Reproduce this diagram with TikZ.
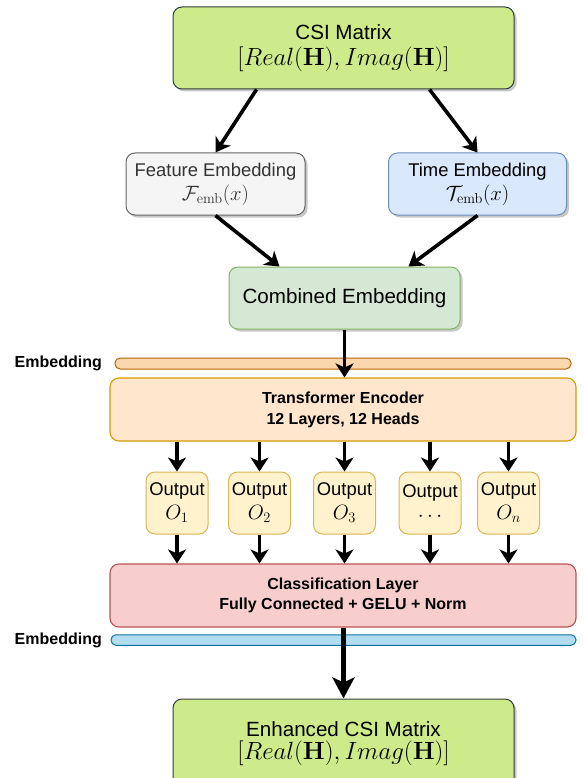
\documentclass[tikz,border=0pt]{standalone}
\usepackage[no-math]{fontspec}
\setmainfont{Liberation Sans}
\usetikzlibrary{arrows.meta,shadows}

\definecolor{csifill}{HTML}{CDEB8B}
\definecolor{csiedge}{HTML}{36393D}
\definecolor{featfill}{HTML}{F5F5F5}
\definecolor{featedge}{HTML}{666666}
\definecolor{feattext}{HTML}{333333}
\definecolor{timefill}{HTML}{DAE8FC}
\definecolor{timeedge}{HTML}{6C8EBF}
\definecolor{combfill}{HTML}{D5E8D4}
\definecolor{combedge}{HTML}{82B366}
\definecolor{embfill}{HTML}{FAD7AC}
\definecolor{embedge}{HTML}{B46504}
\definecolor{encfill}{HTML}{FFE6CC}
\definecolor{encedge}{HTML}{D79B00}
\definecolor{outfill}{HTML}{FFF2CC}
\definecolor{outedge}{HTML}{D6B656}
\definecolor{clsfill}{HTML}{F8CECC}
\definecolor{clsedge}{HTML}{B85450}
\definecolor{bluefill}{HTML}{B1DDF0}
\definecolor{blueedge}{HTML}{10739E}

\begin{document}
\begin{tikzpicture}[x=1pt,y=-1pt,
    box/.style={draw,rounded corners=9pt,line width=1pt,align=center,inner sep=0pt,
        font=\fontsize{18.4}{22}\selectfont},
    bigbox/.style={box,font=\fontsize{20.6}{24}\selectfont},
    boldbox/.style={box,line width=1.1pt,font=\fontsize{16}{21}\selectfont\bfseries},
    shd/.style={drop shadow={shadow xshift=2.5pt,shadow yshift=-2.5pt,opacity=.22,fill=black}},
    bar/.style={draw,rounded corners=5pt,line width=1pt,minimum height=11pt,inner sep=0pt},
    lbl/.style={anchor=east,inner sep=0pt,font=\fontsize{16}{20}\selectfont\bfseries},
    arr/.style={line width=3.6pt,-{Stealth[length=14pt,width=18pt,inset=4pt]}},
    bigarr/.style={line width=4.8pt,-{Stealth[length=21pt,width=22pt,inset=5pt]}}]
    \useasboundingbox (0,0) rectangle (583,778);

    \node[bigbox,shd,fill=csifill,draw=csiedge,minimum width=341pt,minimum height=82pt] (csi) at (343.5,48)
        {CSI Matrix\\[2pt]{\fontsize{24.4}{28}\selectfont$[Real(\mathbf{H}),Imag(\mathbf{H})]$}};
    \node[box,shd,fill=featfill,draw=featedge,text=feattext,minimum width=179pt,minimum height=62pt] (feat) at (215.5,184)
        {Feature Embedding\\[2pt]{\fontsize{21.7}{24}\selectfont$\mathcal{F}_{\mathrm{emb}}(x)$}};
    \node[box,shd,fill=timefill,draw=timeedge,minimum width=178pt,minimum height=62pt] (time) at (477.5,184)
        {Time Embedding\\[2pt]{\fontsize{21.7}{24}\selectfont$\mathcal{T}_{\mathrm{emb}}(x)$}};
    \node[bigbox,shd,fill=combfill,draw=combedge,minimum width=231pt,minimum height=62pt] (comb) at (344.5,298)
        {Combined Embedding};

    \node[lbl] (embtxta) at (102,363) {Embedding};
    \node[bar,fill=embfill,draw=embedge,minimum width=456pt] (emba) at (343,363.5) {};
    \node[boldbox,fill=encfill,draw=encedge,minimum width=466pt,minimum height=63pt] (enc) at (343,409.5)
        {Transformer Encoder\\12 Layers, 12 Heads};

    \foreach \x/\n/\v in {177/1/O_1,259.5/2/O_2,344.5/3/O_3,430/4/\cdots,508.5/5/O_n}
        {\node[box,fill=outfill,draw=outedge,minimum width=62pt,minimum height=62pt] (o\n) at (\x,503)
            {Output\\[2pt]{\fontsize{22}{24}\selectfont$\v$}};}

    \node[boldbox,fill=clsfill,draw=clsedge,minimum width=466pt,minimum height=63pt] (cls) at (343,595.5)
        {Classification Layer\\[-1pt]Fully Connected + GELU + Norm};
    \node[lbl] (embtxtb) at (102,640) {Embedding};
    \node[bar,fill=bluefill,draw=blueedge,minimum width=465pt,minimum height=10.5pt] (embb) at (343.5,640) {};

    \node[bigbox,shd,fill=csifill,draw=csiedge,minimum width=341pt,minimum height=90pt] (enh) at (343.5,744)
        {Enhanced CSI Matrix\\[-1pt]{\fontsize{24.4}{28}\selectfont$[Real(\mathbf{H}),Imag(\mathbf{H})]$}};

    \draw[arr] ([xshift=-87pt]csi.south) -- (feat.north);
    \draw[arr] ([xshift=86pt]csi.south) -- (time.north);
    \draw[arr] (feat.south) -- ([xshift=-65pt]comb.north);
    \draw[arr] (time.south) -- ([xshift=64pt]comb.north);
    \draw[arr] (comb.south) -- (comb.south |- enc.north);
    \foreach \n in {1,...,5}
        {\draw[arr] (enc.south -| o\n) -- (o\n.north);
         \draw[arr] (o\n.south) -- (cls.north -| o\n);}
    \draw[bigarr] (cls.south -| enh) -- (enh.north);
\end{tikzpicture}
\end{document}
